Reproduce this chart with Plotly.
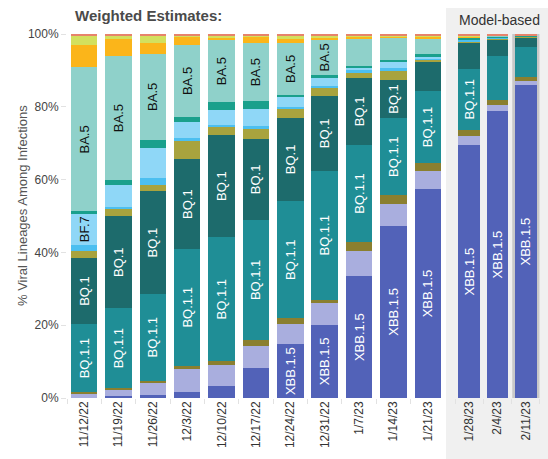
import plotly.graph_objects as go

dates_weighted = ["11/12/22", "11/19/22", "11/26/22", "12/3/22", "12/10/22", "12/17/22",
                  "12/24/22", "12/31/22", "1/7/23", "1/14/23", "1/21/23"]
dates_model = ["1/28/23", "2/4/23", "2/11/23"]

y_tick_vals = [0, 20, 40, 60, 80, 100]
y_tick_text = ["0%", "20%", "40%", "60%", "80%", "100%"]

# shares (%) per lineage, bottom to top, 14 weeks (11 weighted + 3 model-based)
xbb15   = [0.0, 0.5, 0.8, 1.6, 3.2, 8.2, 14.7, 20.1, 33.4, 47.3, 57.4, 69.4, 78.8, 85.9]
xbb     = [1.2, 1.8, 3.2, 6.4, 5.8, 6.2, 5.7, 6.0, 7.1, 6.0, 5.0, 2.7, 1.8, 1.1]
bn1     = [0.5, 0.5, 0.8, 0.9, 1.1, 1.6, 1.5, 0.9, 2.4, 2.4, 2.1, 1.6, 1.4, 1.1]
bq11    = [18.5, 21.8, 23.8, 32.0, 34.1, 32.9, 32.2, 35.4, 26.6, 21.2, 19.9, 16.8, 11.9, 8.2]
bq1     = [18.4, 25.4, 28.2, 24.7, 28.0, 22.3, 22.9, 20.6, 18.5, 10.5, 7.8, 7.1, 4.6, 2.7]
ba275   = [1.8, 1.8, 1.8, 4.9, 2.2, 2.6, 2.5, 2.3, 1.4, 2.7, 0.7, 0.4, 0.3, 0.3]
bf11    = [1.5, 0.7, 1.8, 0.8, 0.7, 0.8, 0.5, 0.5, 0.6, 0.5, 0.5, 0.4, 0.1, 0.0]
bf7     = [8.9, 5.9, 8.3, 4.4, 4.0, 4.9, 2.6, 2.2, 0.7, 1.6, 0.5, 0.2, 0.1, 0.0]
ba46    = [0.5, 1.5, 2.2, 1.4, 2.2, 2.2, 0.6, 0.7, 0.5, 0.6, 0.5, 0.3, 0.3, 0.2]
ba5     = [39.5, 34.0, 23.7, 20.0, 17.0, 15.7, 14.4, 9.8, 7.4, 6.2, 4.3, 0.2, 0.2, 0.1]
ba2     = [6.2, 4.8, 3.0, 2.1, 0.6, 1.8, 0.9, 0.3, 0.6, 0.2, 0.5, 0.3, 0.1, 0.1]
ba4     = [2.4, 0.7, 1.8, 0.2, 0.5, 0.2, 0.9, 0.6, 0.2, 0.2, 0.2, 0.1, 0.1, 0.0]
other   = [0.6, 0.6, 0.6, 0.6, 0.6, 0.6, 0.6, 0.6, 0.6, 0.6, 0.6, 0.5, 0.3, 0.3]

names = ["XBB.1.5", "XBB", "BN.1", "BQ.1.1", "BQ.1", "BA.2.75", "BF.11", "BF.7",
         "BA.4.6", "BA.5", "BA.2", "BA.4", "Other"]
series = [xbb15, xbb, bn1, bq11, bq1, ba275, bf11, bf7, ba46, ba5, ba2, ba4, other]
colors = ["#5262b8", "#a9aede", "#8a7f2f", "#1f8e96", "#1d6b6c", "#a8a33e", "#4cbff0",
          "#8fd7f7", "#1aa08c", "#8fd1ca", "#fbb51a", "#d3e05e", "#e7836b"]

# which bars (index) carry an in-bar label for each lineage
label_idx = {
    "XBB.1.5": list(range(6, 14)),
    "BQ.1.1": list(range(0, 12)),
    "BQ.1": list(range(0, 10)),
    "BF.7": [0],
    "BA.5": list(range(0, 8)),
}
label_color = {"XBB.1.5": "white", "BQ.1.1": "white", "BQ.1": "white",
               "BF.7": "#111111", "BA.5": "#111111"}

FONT = "Liberation Sans, Arial, sans-serif"
fig = go.Figure()

nw = len(dates_weighted)
for name, vals, col in zip(names, series, colors):
    texts = [name if i in label_idx.get(name, []) else "" for i in range(len(vals))]
    for xs, sl, xa in [(dates_weighted, slice(0, nw), "x"), (dates_model, slice(nw, None), "x2")]:
        fig.add_trace(go.Bar(
            x=xs, y=vals[sl], name=name, xaxis=xa, yaxis="y",
            marker=dict(color=col, line=dict(width=0)),
            text=texts[sl], textposition="inside", textangle=-90,
            insidetextanchor="middle", constraintext="none",
            insidetextfont=dict(family=FONT, size=13, color=label_color.get(name, "white")),
            hoverinfo="skip", showlegend=False,
        ))

W, H = 548, 459
L, R, T, B = 67, 8, 34, 61
pw, ph = W - L - R, H - T - B

def px(x):
    return (x - L) / pw

def py(y):
    return (H - B - y) / ph

shapes = [
    dict(type="rect", xref="paper", yref="paper", x0=px(446), x1=px(560), y0=py(470), y1=py(8),
         fillcolor="#f0f0f0", line=dict(width=0), layer="below"),
    dict(type="rect", xref="x2", yref="y", x0=1.52, x1=2.48, y0=-0.4, y1=101.0,
         fillcolor="#c8c8c8", line=dict(width=0), layer="below"),
]

axis_common = dict(type="category", showgrid=False, zeroline=False, showline=False,
                   tickangle=-90, tickfont=dict(family=FONT, size=12, color="#333333"),
                   ticks="outside", tickson="boundaries", ticklen=5, tickcolor="#e2e2e2",
                   automargin=False)

fig.update_layout(
    width=W, height=H,
    margin=dict(l=L, r=R, t=T, b=B),
    paper_bgcolor="white", plot_bgcolor="rgba(0,0,0,0)",
    barmode="stack", bargap=0.23,
    font=dict(family=FONT),
    xaxis=dict(domain=[0, 0.799], range=[-0.5, nw - 0.5], anchor="y", **axis_common),
    xaxis2=dict(domain=[0.8205, 1.0], range=[-0.5, len(dates_model) - 0.5], anchor="y", **axis_common),
    yaxis=dict(range=[0, 100], tickmode="array", tickvals=y_tick_vals, ticktext=y_tick_text,
               showgrid=False, zeroline=False, showline=False,
               ticks="outside", ticklen=5, tickcolor="#e2e2e2",
               tickfont=dict(family=FONT, size=12, color="#444444"), automargin=False),
    shapes=shapes,
    annotations=[
        dict(text="<b>Weighted Estimates:</b>", xref="paper", yref="paper", x=px(73), y=py(16),
             xanchor="left", yanchor="middle", showarrow=False,
             font=dict(family=FONT, size=15, color="#4a4a4a")),
        dict(text="Model-based", xref="paper", yref="paper", x=px(499), y=py(20),
             xanchor="center", yanchor="middle", showarrow=False,
             font=dict(family=FONT, size=14, color="#333333")),
        dict(text="% Viral Lineages Among Infections", xref="paper", yref="paper",
             x=px(22), y=py(206), xanchor="center", yanchor="middle", textangle=-90,
             showarrow=False, font=dict(family=FONT, size=13, color="#555555")),
    ],
)

fig.write_html("out.html", config={"displayModeBar": False},
               post_script="document.body.style.margin='0';document.body.style.overflow='hidden';")
